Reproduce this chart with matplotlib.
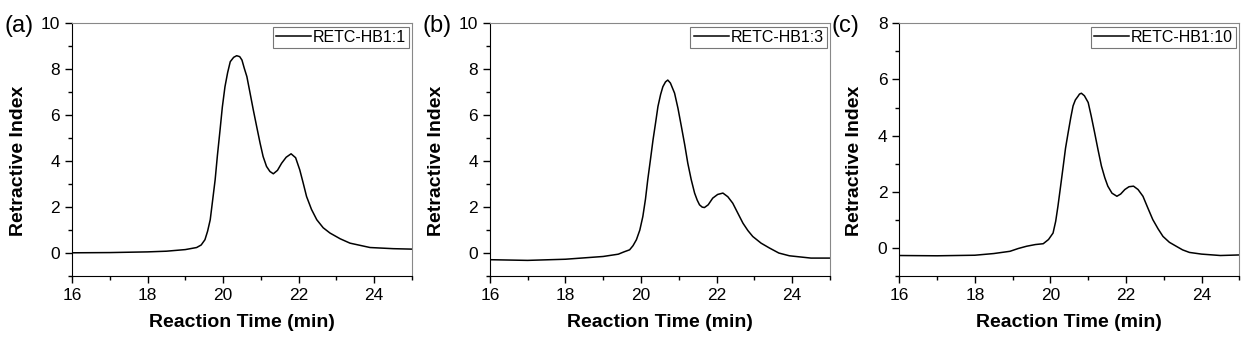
import matplotlib
matplotlib.use('Agg')
import matplotlib.pyplot as plt
from matplotlib.ticker import MultipleLocator

plt.rcParams['font.family'] = ['Liberation Sans', 'DejaVu Sans']

# Werte
t_a = [16.0, 17.0, 18.0, 18.5, 19.0, 19.3, 19.42, 19.52, 19.59, 19.66, 19.72, 19.79, 19.85,
       19.92, 19.98, 20.05, 20.12, 20.19, 20.28, 20.36, 20.44, 20.5, 20.56, 20.63, 20.71,
       20.8, 20.89, 20.98, 21.06, 21.15, 21.24, 21.33, 21.44, 21.55, 21.67, 21.8, 21.92,
       22.03, 22.12, 22.21, 22.34, 22.48, 22.65, 22.83, 23.1, 23.36, 23.89, 24.5, 25.0]
ri_a = [0.01, 0.02, 0.05, 0.08, 0.15, 0.24, 0.35, 0.58, 0.95, 1.45, 2.25, 3.19, 4.25,
        5.36, 6.35, 7.24, 7.85, 8.33, 8.52, 8.59, 8.55, 8.4, 8.05, 7.68, 7.0,
        6.23, 5.5, 4.78, 4.2, 3.77, 3.55, 3.45, 3.6, 3.91, 4.17, 4.32, 4.15,
        3.62, 3.05, 2.46, 1.9, 1.45, 1.1, 0.87, 0.62, 0.43, 0.24, 0.19, 0.17]

t_b = [16.0, 17.0, 18.0, 19.0, 19.4, 19.55, 19.7, 19.79, 19.88, 19.97, 20.05, 20.12, 20.18,
       20.25, 20.32, 20.39, 20.45, 20.52, 20.58, 20.65, 20.71, 20.78, 20.89, 20.98, 21.07,
       21.16, 21.24, 21.33, 21.42, 21.49, 21.55, 21.62, 21.68, 21.78, 21.9, 22.03, 22.17,
       22.3, 22.43, 22.56, 22.7, 22.83, 22.96, 23.18, 23.4, 23.65, 23.93, 24.5, 25.0]
ri_b = [-0.29, -0.32, -0.27, -0.15, -0.05, 0.05, 0.14, 0.32, 0.58, 1.0, 1.59, 2.35, 3.19,
        4.05, 4.93, 5.7, 6.38, 6.9, 7.24, 7.45, 7.53, 7.4, 6.96, 6.3, 5.51,
        4.7, 3.91, 3.2, 2.61, 2.3, 2.1, 2.0, 1.98, 2.1, 2.39, 2.55, 2.61,
        2.45, 2.17, 1.75, 1.3, 0.98, 0.72, 0.43, 0.22, 0.0, -0.12, -0.22, -0.22]

t_c = [16.0, 17.0, 18.0, 18.5, 18.93, 19.15, 19.37, 19.6, 19.81, 19.95, 20.07, 20.14, 20.2,
       20.27, 20.34, 20.4, 20.47, 20.54, 20.6, 20.66, 20.73, 20.77, 20.82, 20.9, 21.0,
       21.08, 21.17, 21.26, 21.35, 21.44, 21.52, 21.63, 21.76, 21.86, 21.97, 22.08, 22.2,
       22.32, 22.45, 22.58, 22.71, 22.85, 22.98, 23.15, 23.33, 23.5, 23.68, 24.0, 24.5, 25.0]
ri_c = [-0.27, -0.28, -0.26, -0.2, -0.12, -0.02, 0.06, 0.12, 0.15, 0.3, 0.53, 0.95, 1.49,
        2.2, 2.92, 3.55, 4.11, 4.65, 5.06, 5.27, 5.4, 5.48, 5.51, 5.42, 5.18,
        4.7, 4.11, 3.5, 2.92, 2.5, 2.2, 1.95, 1.84, 1.92, 2.08, 2.18, 2.2,
        2.08, 1.84, 1.42, 1.01, 0.68, 0.41, 0.2, 0.06, -0.07, -0.16, -0.22, -0.27, -0.25]

labels = ['RETC-HB1:1', 'RETC-HB1:3', 'RETC-HB1:10']
panels = ['(a)', '(b)', '(c)']
ymax = [10, 10, 8]
lefts = [0.0573, 0.390, 0.716]
ylab_x = [-0.132, -0.132, -0.108]

fig = plt.figure(figsize=(12.56, 3.41), dpi=100)

for i, (t, ri) in enumerate([(t_a, ri_a), (t_b, ri_b), (t_c, ri_c)]):
    ax = fig.add_axes([lefts[i], 0.1906, 0.2707, 0.741])
    ax.plot(t, ri, color='black', lw=1.1, label=labels[i])
    ax.set_xlim(16, 25)
    ax.set_ylim(-1, ymax[i])
    ax.xaxis.set_major_locator(MultipleLocator(2))
    ax.xaxis.set_minor_locator(MultipleLocator(1))
    ax.yaxis.set_major_locator(MultipleLocator(2))
    ax.yaxis.set_minor_locator(MultipleLocator(1))
    ax.tick_params(which='both', direction='out', top=False, right=False, labelsize=12.5)
    ax.tick_params(which='major', length=5, width=1)
    ax.tick_params(which='minor', length=3, width=1)
    for s in ['top', 'right']:
        ax.spines[s].set_color('#888888')
        ax.spines[s].set_linewidth(0.8)
    ax.set_xlabel('Reaction Time (min)', fontsize=14, fontweight='bold', labelpad=8)
    ax.set_ylabel('Retractive Index', fontsize=14, fontweight='bold')
    ax.yaxis.set_label_coords(ylab_x[i], 0.455)
    leg = ax.legend(loc='upper right', fontsize=11.5, fancybox=False, borderaxespad=0.2,
                    handlelength=2.2, handletextpad=0.1, borderpad=0.2, framealpha=1)
    leg.get_frame().set_edgecolor('#777777')
    leg.get_frame().set_linewidth(0.8)
    fig.text(lefts[i] - 0.054, 0.925, panels[i], fontsize=17, va='center', ha='left')

fig.savefig('out.png', dpi=100)
